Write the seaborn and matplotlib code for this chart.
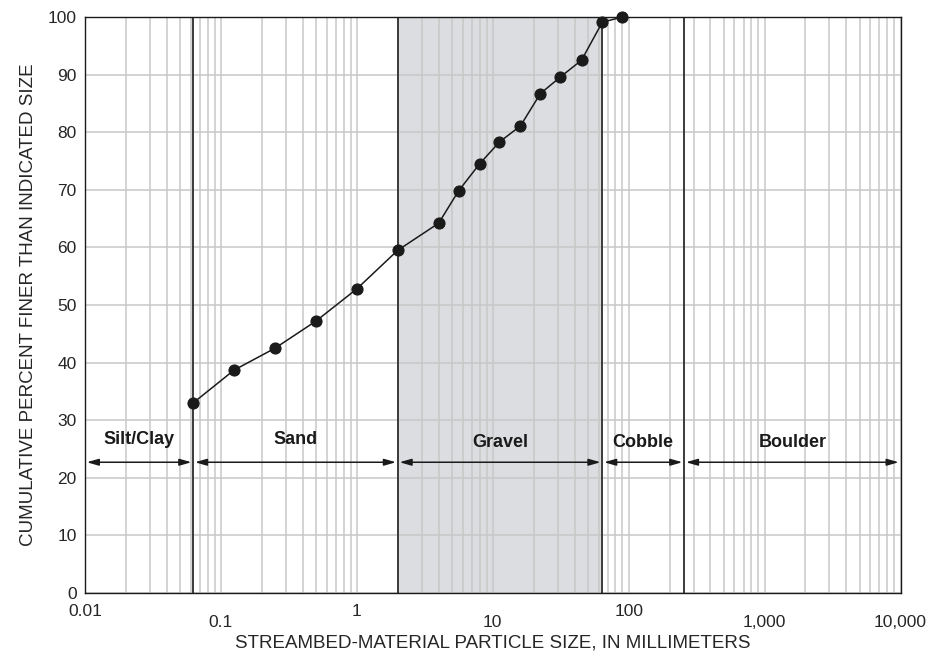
import matplotlib
matplotlib.use("Agg")
import matplotlib.pyplot as plt
import seaborn as sns
import numpy as np
import pandas as pd

# Data
particle_size_mm = [0.0625, 0.125, 0.25, 0.5, 1, 2, 4, 5.6, 8, 11.2, 16, 22.4, 31.5, 45, 64, 90]
percent_finer = [33.0, 38.7, 42.5, 47.2, 52.8, 59.5, 64.2, 69.8, 74.5, 78.3, 81.1, 86.7, 89.6, 92.5, 99.1, 100.0]

class_names = ["Silt/Clay", "Sand", "Gravel", "Cobble", "Boulder"]
class_bounds = [0.01, 0.0625, 2, 64, 256, 10000]
divider_sizes = [0.0625, 2, 64, 256]
x_tick_values = [0.01, 0.1, 1, 10, 100, 1000, 10000]
x_tick_labels = ["0.01", "0.1", "1", "10", "100", "1,000", "10,000"]
y_tick_values = list(range(0, 101, 10))

df = pd.DataFrame({"size": particle_size_mm, "pct": percent_finer})

sns.set_style("white")
plt.rcParams["font.family"] = ["Liberation Sans", "DejaVu Sans"]

fig = plt.figure(figsize=(9.35, 6.54), dpi=100)
ax = fig.add_axes([85 / 935, 61 / 654, (900.5 - 85) / 935, (593 - 17) / 654])

ax.set_xscale("log")
ax.set_xlim(0.01, 10000)
ax.set_ylim(0, 100)

# Gravel shading
ax.axvspan(2, 64, color="#dcdde0", zorder=0, lw=0)

# Grid
ax.grid(True, which="both", axis="x", color="#c8c8c8", lw=1.1, zorder=1)
ax.grid(True, which="major", axis="y", color="#c8c8c8", lw=1.1, zorder=1)
ax.set_axisbelow(True)

# Divider lines
for xv in divider_sizes:
    ax.axvline(xv, color="#3a3a3a", lw=1.4, zorder=2)

# Class arrows and labels
arrow_y = 22.7
label_ys = [25.2, 25.2, 24.6, 24.6, 24.6]
for i, name in enumerate(class_names):
    lo, hi = class_bounds[i], class_bounds[i + 1]
    f = 1.03
    ax.annotate("", xy=(hi / f, arrow_y), xytext=(lo * f, arrow_y),
                arrowprops=dict(arrowstyle="<|-|>,head_length=0.7,head_width=0.2",
                                color="#1a1a1a", lw=1.1, shrinkA=0, shrinkB=0),
                zorder=4)
    xc = np.sqrt(lo * hi)
    ax.text(xc, label_ys[i], name, ha="center", va="bottom", fontsize=13,
            fontweight="bold", color="#1a1a1a", zorder=4)

# Data line
sns.lineplot(data=df, x="size", y="pct", ax=ax, color="#1a1a1a", lw=1.1,
             marker="o", markersize=8, markeredgecolor="#1a1a1a",
             markerfacecolor="#1a1a1a", zorder=5, clip_on=False)

# Ticks
ax.set_xticks(x_tick_values)
ax.set_xticklabels(x_tick_labels, fontsize=12.5)
ax.xaxis.set_minor_formatter(matplotlib.ticker.NullFormatter())
ax.set_yticks(y_tick_values)
ax.set_yticklabels([str(v) for v in y_tick_values], fontsize=12.5)
ax.tick_params(axis="both", which="both", length=0)
ax.tick_params(axis="y", pad=6)
pads = [8, 16, 8, 16, 8, 16, 16]
for t, p in zip(ax.xaxis.get_major_ticks(), pads):
    t.set_pad(p)

for s in ax.spines.values():
    s.set_color("#1a1a1a")
    s.set_linewidth(1.0)
    s.set_visible(True)

ax.set_xlabel("STREAMBED-MATERIAL PARTICLE SIZE, IN MILLIMETERS", fontsize=13.5, labelpad=3)
ax.set_ylabel("CUMULATIVE PERCENT FINER THAN INDICATED SIZE", fontsize=13.5, labelpad=8)

fig.savefig("out.png", dpi=100)
